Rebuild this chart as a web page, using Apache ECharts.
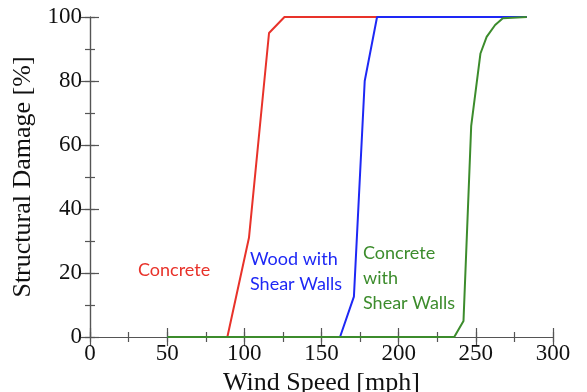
<!DOCTYPE html>
<html>
<head>
<meta charset="utf-8">
<script src="https://cdn.jsdelivr.net/npm/echarts@6/dist/echarts.min.js"></script>
<style>
html,body{margin:0;padding:0;background:#fff;}
#c{width:587px;height:392px;}
</style>
</head>
<body>
<div id="c"></div>
<script>
const xTicks = [0, 50, 100, 150, 200, 250, 300];
const yTicks = [0, 20, 40, 60, 80, 100];

const concreteSpeed = [50, 89, 103, 116, 126, 283];
const concreteDamage = [0, 0, 31, 95, 100, 100];

const woodSpeed = [50, 162, 171, 178, 186, 283];
const woodDamage = [0, 0, 12.6, 80, 100, 100];

const shearSpeed = [50, 236, 242, 247, 253, 257, 262.5, 267.5, 283];
const shearDamage = [0, 0, 5, 66, 88.6, 93.8, 97.5, 99.6, 100];

const RED = '#e8322a', BLUE = '#1e28f5', GREEN = '#3c8c2c';
const pairs = (xs, ys) => xs.map((x, i) => [x, ys[i]]);

const chart = echarts.init(document.getElementById('c'));
const serif = 'Liberation Serif';
const sans = 'Lato, "Open Sans", sans-serif';
const lc = '#555';

function mk(kind, pos, interval, major, labels, extra) {
  const isX = kind === 'x';
  return Object.assign({
    type: 'value', min: 0, max: isX ? 300 : 100, interval: interval, position: pos,
    axisLine: {show: major, lineStyle: {color: lc, width: 1.2}},
    axisTick: {show: true, inside: true, length: major ? 9 : 5, lineStyle: {color: lc, width: 1.2}},
    splitLine: {show: false},
    axisLabel: labels ? {show: true, fontFamily: serif, fontSize: 23, color: '#111', margin: isX ? 5 : 8,
      formatter: v => (isX ? xTicks : yTicks).includes(v) ? String(v) : ''} : {show: false}
  }, extra || {});
}

chart.setOption({
  animation: false,
  backgroundColor: '#fff',
  textStyle: {fontFamily: serif},
  grid: {left: 90, right: 34, top: 17, bottom: 55, containLabel: false, outerBoundsMode: 'none'},
  xAxis: [
    mk('x', 'bottom', 50, true, true, {
      name: 'Wind Speed [mph]', nameLocation: 'middle', nameGap: 25,
      nameTextStyle: {fontFamily: serif, fontSize: 26, color: '#111'}
    }),
    mk('x', 'top', 50, true, false),
    mk('x', 'bottom', 25, false, false),
    mk('x', 'top', 25, false, false)
  ],
  yAxis: [
    mk('y', 'left', 20, true, true, {
      name: 'Structural Damage [%]', nameLocation: 'middle', nameGap: 50,
      nameTextStyle: {fontFamily: serif, fontSize: 26, color: '#111'}
    }),
    mk('y', 'right', 20, true, false),
    mk('y', 'left', 10, false, false),
    mk('y', 'right', 10, false, false)
  ],
  series: [
    {type: 'line', name: 'Concrete', data: pairs(concreteSpeed, concreteDamage),
     showSymbol: false, clip: false, lineStyle: {color: RED, width: 2}, z: 3},
    {type: 'line', name: 'Wood with Shear Walls', data: pairs(woodSpeed, woodDamage),
     showSymbol: false, clip: false, lineStyle: {color: BLUE, width: 2}, z: 4},
    {type: 'line', name: 'Concrete with Shear Walls', data: pairs(shearSpeed, shearDamage),
     showSymbol: false, clip: false, lineStyle: {color: GREEN, width: 2}, z: 5}
  ],
  graphic: [
    {type: 'text', left: 138, top: 261, style: {text: 'Concrete', fill: RED, font: '18px ' + sans}},
    {type: 'text', left: 250, top: 246, style: {text: 'Wood with\nShear Walls', fill: BLUE, font: '18px ' + sans, lineHeight: 25.5}},
    {type: 'text', left: 363, top: 241, style: {text: 'Concrete\nwith\nShear Walls', fill: GREEN, font: '18px ' + sans, lineHeight: 25}}
  ]
});
</script>
</body>
</html>
